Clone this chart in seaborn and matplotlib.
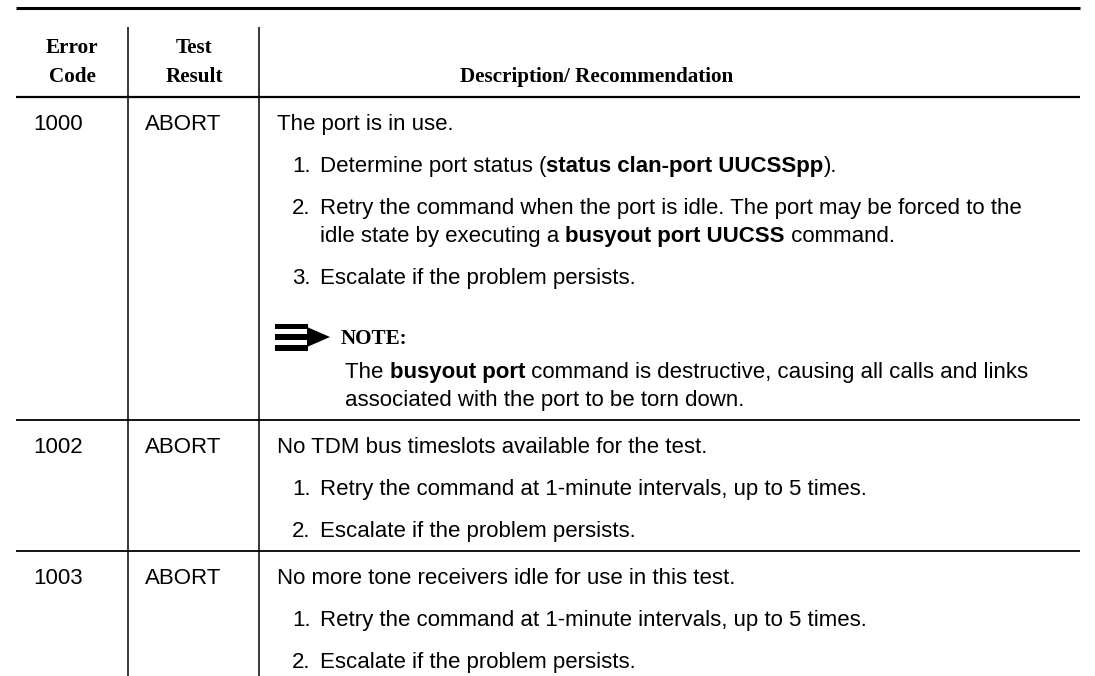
import matplotlib
matplotlib.use("Agg")
import matplotlib.pyplot as plt
import seaborn as sns
from matplotlib.patches import Rectangle, Polygon

# table content
header_code = ["Error", "Code"]
header_result = ["Test", "Result"]
header_desc = "Description/ Recommendation"

codes = ["1000", "1002", "1003"]
results = ["ABORT", "ABORT", "ABORT"]
intros = [
    "The port is in use.",
    "No TDM bus timeslots available for the test.",
    "No more tone receivers idle for use in this test.",
]

# each step = list of lines, each line = list of (text, bold) runs
steps = [
    [
        [[("Determine port status (", False), ("status clan-port UUCSSpp", True), (").", False)]],
        [[("Retry the command when the port is idle. The port may be forced to the", False)],
         [("idle state by executing a ", False), ("busyout port UUCSS", True), (" command.", False)]],
        [[("Escalate if the problem persists.", False)]],
    ],
    [
        [[("Retry the command at 1-minute intervals, up to 5 times.", False)]],
        [[("Escalate if the problem persists.", False)]],
    ],
    [
        [[("Retry the command at 1-minute intervals, up to 5 times.", False)]],
        [[("Escalate if the problem persists.", False)]],
    ],
]

notes = [
    [[("The ", False), ("busyout port", True), (" command is destructive, causing all calls and links", False)],
     [("associated with the port to be torn down.", False)]],
    None,
    None,
]

# layout (pixels)
W, H = 1095, 676
X0, X1 = 16, 1080
COL1, COL2 = 128, 259
TOP_RULE, HEAD_RULE, VTOP = 8, 97, 27
FIRST, PARA, WRAP, NOTE_GAP, NOTE_TEXT, END = 25, 42, 28, 61, 33, 22
BODY = 16
HEAD = 15.2
SERIF = "Liberation Serif"

sns.set_theme(style="white")
plt.rcParams["font.family"] = ["Liberation Sans", "DejaVu Sans"]
plt.rcParams["text.color"] = "black"

fig = plt.figure(figsize=(W / 100, H / 100), dpi=100)
ax = fig.add_axes([0, 0, 1, 1])
ax.set_xlim(0, W)
ax.set_ylim(H, 0)
ax.axis("off")
renderer = fig.canvas.get_renderer()


def text_width(s, weight, size):
    t1 = ax.text(0, 0, s + "|", fontsize=size, fontweight=weight)
    t2 = ax.text(0, 0, "|", fontsize=size, fontweight=weight)
    w = t1.get_window_extent(renderer).width - t2.get_window_extent(renderer).width
    t1.remove()
    t2.remove()
    return w


def draw_runs(x, y, runs, size=BODY):
    for s, bold in runs:
        weight = "bold" if bold else "normal"
        ax.text(x, y + 8, s, fontsize=size, fontweight=weight,
                ha="left", va="baseline", color="black")
        x += text_width(s, weight, size)


def note_icon(x, yc):
    for dy in (-13.5, -2.75, 8):
        ax.add_patch(Rectangle((x, yc + dy), 33, 5.5, color="black", lw=0))
    ax.add_patch(Polygon([(x + 32, yc - 10), (x + 55, yc), (x + 32, yc + 10)],
                         closed=True, color="black", lw=0))


def serif(x, y, s, ha):
    ax.text(x, y + 7, s, family=SERIF, fontsize=HEAD, fontweight="bold",
            ha=ha, va="baseline", color="black")


# rules
ax.hlines(TOP_RULE, X0, X1, color="black", lw=2.2)
ax.hlines(HEAD_RULE, X0, X1, color="black", lw=1.6)
ax.vlines([COL1, COL2], VTOP, H, color="black", lw=1.1)

# header
for txt, yy in zip(header_code, (46, 75)):
    serif(72, yy, txt, "center")
for txt, yy in zip(header_result, (46, 75)):
    serif(194, yy, txt, "center")
serif(597, 75, header_desc, "center")

# body
y = HEAD_RULE
for i in range(len(codes)):
    y += FIRST
    draw_runs(33, y, [(codes[i], False)])
    draw_runs(145, y, [(results[i], False)])
    draw_runs(277, y, [(intros[i], False)])
    for k, step in enumerate(steps[i]):
        y += PARA
        draw_runs(292, y, [(f"{k + 1}.", False)])
        for j, line in enumerate(step):
            if j > 0:
                y += WRAP
            draw_runs(320, y, line)
    if notes[i]:
        y += NOTE_GAP
        note_icon(275, y)
        serif(341, y, "NOTE:", "left")
        for j, line in enumerate(notes[i]):
            y += NOTE_TEXT if j == 0 else WRAP
            draw_runs(345, y, line)
    y += END
    if i < len(codes) - 1:
        ax.hlines(y, X0, X1, color="black", lw=1.3)

fig.savefig("out.png", dpi=100, facecolor="white")
